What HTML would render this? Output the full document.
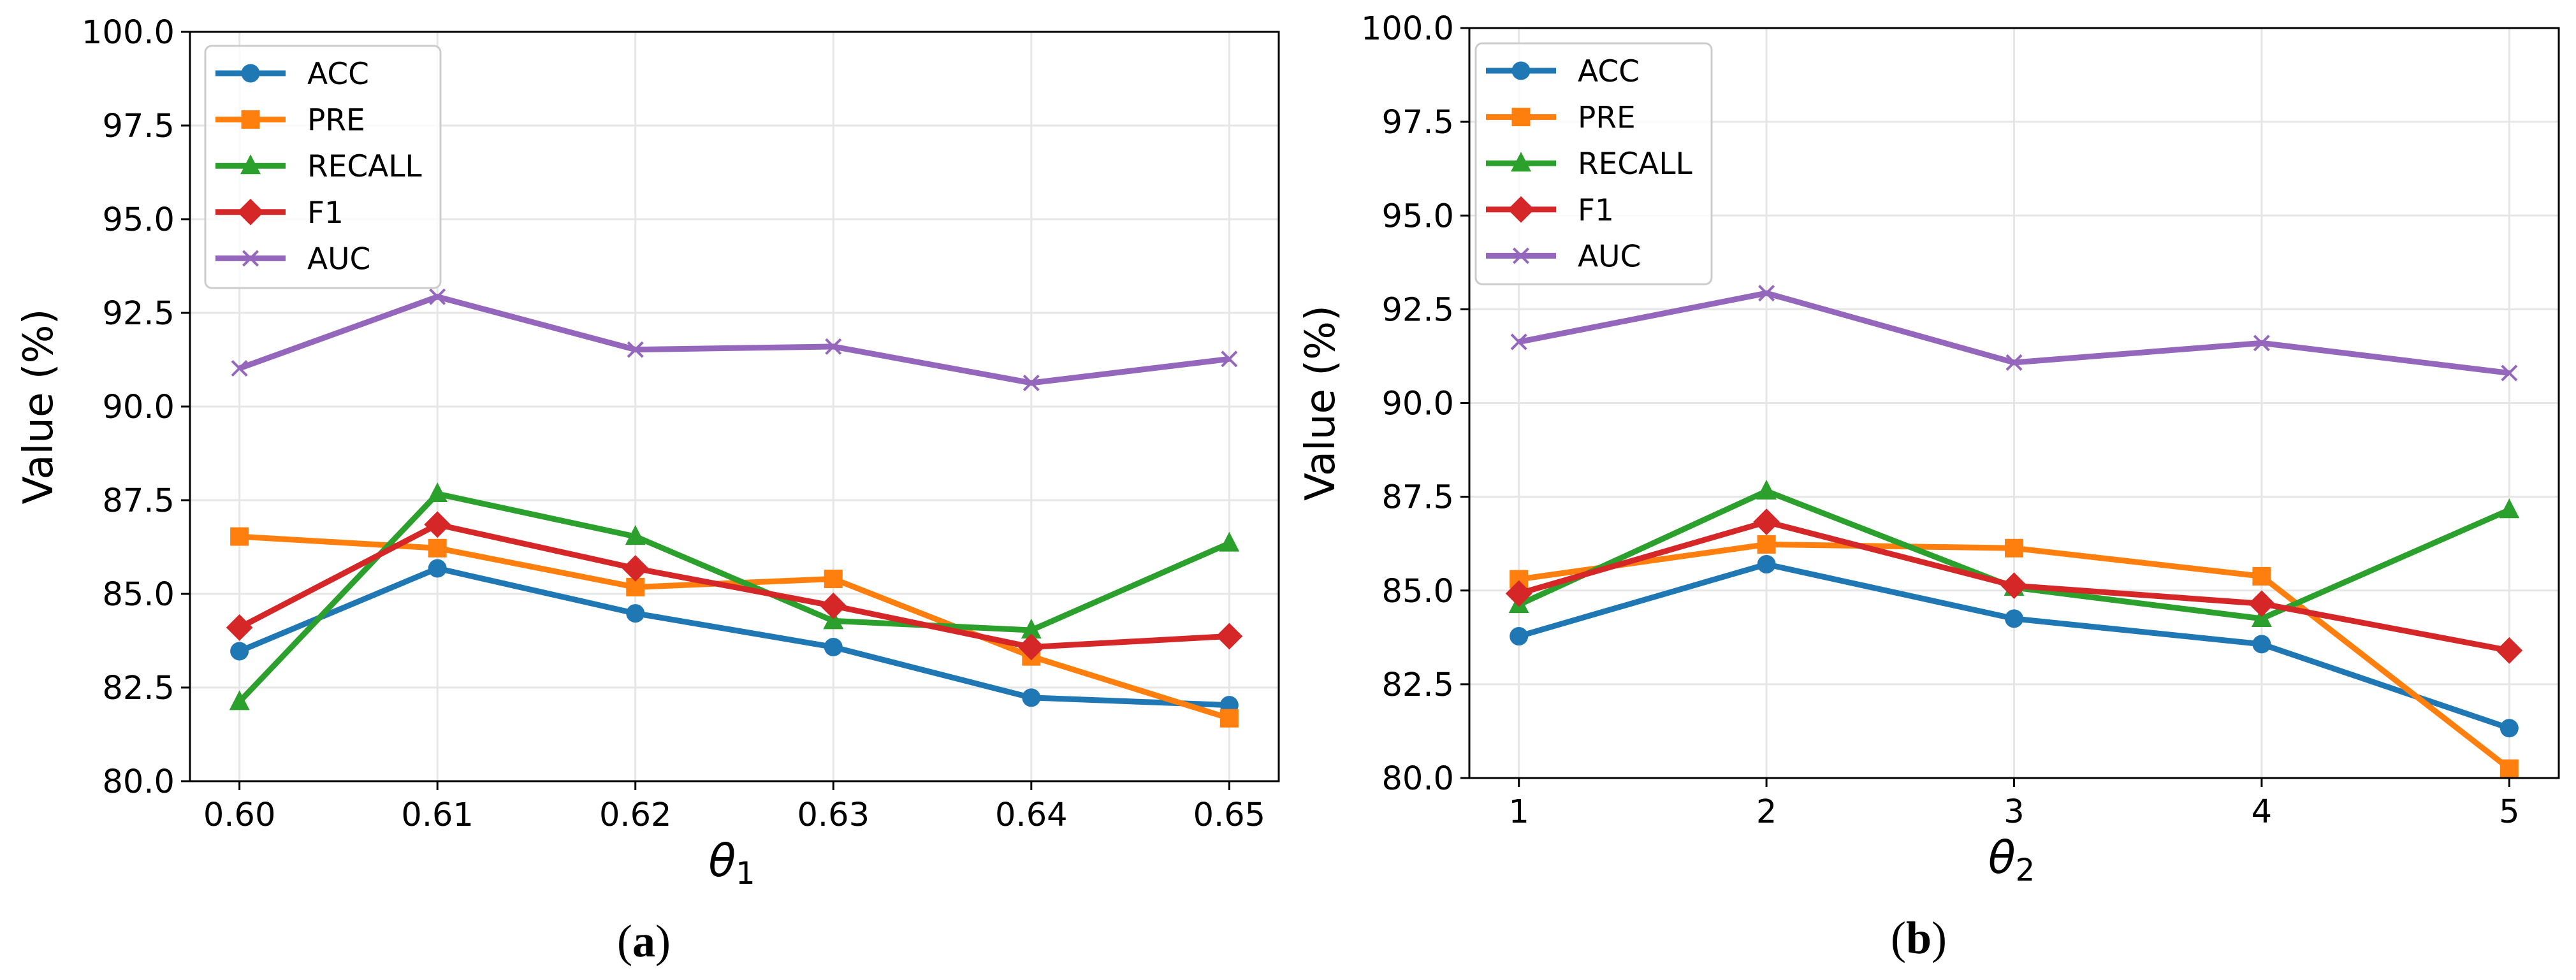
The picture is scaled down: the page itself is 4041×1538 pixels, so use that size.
<!DOCTYPE html>
<html><head><meta charset="utf-8"><style>
html,body{margin:0;padding:0;background:#fff;}
svg{display:block;font-family:"DejaVu Sans","Liberation Sans",sans-serif;}
</style></head><body>
<svg id="fig" width="4041" height="1538" viewBox="0 0 4041 1538" xmlns="http://www.w3.org/2000/svg"></svg>
<script>
const seriesNames = ["ACC","PRE","RECALL","F1","AUC"];
const seriesColors = ["#1f77b4","#ff7f0e","#2ca02c","#d62728","#9467bd"];
const seriesMarkers = ["circle","square","triangle","diamond","x"];
const yTicks = [80.0,82.5,85.0,87.5,90.0,92.5,95.0,97.5,100.0];
const xCatsA = ["0.60","0.61","0.62","0.63","0.64","0.65"];
const xCatsB = ["1","2","3","4","5"];
const accA = [83.47,85.68,84.48,83.58,82.23,82.03];
const preA = [86.53,86.22,85.18,85.40,83.33,81.68];
const recA = [82.12,87.67,86.53,84.28,84.03,86.35];
const f1A  = [84.10,86.85,85.68,84.68,83.58,83.87];
const aucA = [91.02,92.93,91.52,91.60,90.63,91.27];
const accB = [83.78,85.70,84.25,83.57,81.33];
const preB = [85.30,86.23,86.13,85.38,80.25];
const recB = [84.62,87.65,85.08,84.25,87.15];
const f1B  = [84.92,86.83,85.13,84.65,83.40];
const aucB = [91.63,92.93,91.08,91.60,90.80];

const NS="http://www.w3.org/2000/svg";
const svg=document.getElementById('fig');
function el(tag,attrs,parent){const e=document.createElementNS(NS,tag);for(const k in attrs)e.setAttribute(k,attrs[k]);(parent||svg).appendChild(e);return e;}

function marker(g,type,cx,cy,color,s){
  let m;
  if(type==="circle") m=el('circle',{cx:cx,cy:cy,r:s*0.5,fill:color},g);
  else if(type==="square") m=el('rect',{x:cx-s*0.5,y:cy-s*0.5,width:s,height:s,fill:color},g);
  else if(type==="triangle") m=el('polygon',{points:`${cx},${cy-s*0.62} ${cx-s*0.55},${cy+s*0.45} ${cx+s*0.55},${cy+s*0.45}`,fill:color},g);
  else if(type==="diamond") m=el('polygon',{points:`${cx},${cy-s*0.72} ${cx+s*0.72},${cy} ${cx},${cy+s*0.72} ${cx-s*0.72},${cy}`,fill:color},g);
  else { m=el('path',{d:`M${cx-s*0.4},${cy-s*0.4}L${cx+s*0.4},${cy+s*0.4}M${cx-s*0.4},${cy+s*0.4}L${cx+s*0.4},${cy-s*0.4}`,stroke:color,'stroke-width':4,fill:'none'},g); }
  return m;
}

function panel(p){
  const {L,R,T,B,cats,data,xsym,sub,cap,capX,ylabX,legX,legY,legW,legH,id}=p;
  const g=el('g',{});
  
  
  const n=cats.length, r=(R-L)/1.1, m=r*0.05;
  const xs=i=>L+m+r*i/(n-1);
  const ys=v=>B-(v-80)/20*(B-T);
  // grid
  for(let i=0;i<n;i++){const gl=el('line',{x1:xs(i),x2:xs(i),y1:T,y2:B,stroke:'#e6e6e6','stroke-width':3},g);
    }
  yTicks.forEach(v=>{const gl=el('line',{x1:L,x2:R,y1:ys(v),y2:ys(v),stroke:'#e6e6e6','stroke-width':3},g);
    });
  // series
  data.forEach((vals,si)=>{
    const sg=el('g',{},g);
    
    
    const pts=vals.map((v,i)=>xs(i)+','+ys(v)).join(' ');
    el('polyline',{points:pts,fill:'none',stroke:seriesColors[si],'stroke-width':9,'stroke-linejoin':'round'},sg);
    vals.forEach((v,i)=>{const mk=marker(sg,seriesMarkers[si],xs(i),ys(v),seriesColors[si],29);
      
      });
  });
  // spines
  const fr=el('rect',{x:L,y:T,width:R-L,height:B-T,fill:'none',stroke:'#000','stroke-width':3},g);
  
  // y ticks
  yTicks.forEach(v=>{
    el('line',{x1:L-14,x2:L,y1:ys(v),y2:ys(v),stroke:'#000','stroke-width':3},g);
    const t=el('text',{x:L-24,y:ys(v)+18,'font-size':51,'text-anchor':'end',fill:'#000'},g);
    t.textContent=v.toFixed(1);
    
  });
  cats.forEach((c,i)=>{
    el('line',{x1:xs(i),x2:xs(i),y1:B,y2:B+14,stroke:'#000','stroke-width':3},g);
    const t=el('text',{x:xs(i),y:B+70,'font-size':51,'text-anchor':'middle',fill:'#000'},g);
    t.textContent=c;
    
  });
  // axis labels
  const yl=el('text',{x:ylabX,y:(T+B)/2,'font-size':64,'text-anchor':'middle',transform:`rotate(-90 ${ylabX} ${(T+B)/2})`,dy:22,fill:'#000'},g);
  yl.textContent='Value (%)';
  
  const xl=el('text',{x:(L+R)/2-4,y:B+149,'font-size':70,'font-style':'italic','text-anchor':'middle',fill:'#000'},g);
  
  xl.appendChild(document.createTextNode(xsym));
  const ts=el('tspan',{'font-size':48,'font-style':'normal',dy:12},xl);ts.textContent=sub;
  const ct=el('text',{x:capX,y:B+275,'font-size':72,'font-family':'"Liberation Serif",serif','text-anchor':'middle',fill:'#000'},g);
  
  ct.appendChild(document.createTextNode('('));
  const cb=el('tspan',{'font-weight':'bold'},ct);cb.textContent=cap;
  ct.appendChild(document.createTextNode(')'));
  // legend
  const lg=el('g',{},g);
  
  el('rect',{x:legX,y:legY,width:legW,height:legH,rx:10,fill:'#fff','fill-opacity':0.8,stroke:'#cccccc','stroke-width':3},lg);
  seriesNames.forEach((nm,si)=>{
    const ry=legY+43+si*72.6;
    const le=el('g',{},lg);
    
    
    el('line',{x1:legX+16,x2:legX+126,y1:ry,y2:ry,stroke:seriesColors[si],'stroke-width':9},le);
    marker(le,seriesMarkers[si],legX+71,ry,seriesColors[si],29);
    const t=el('text',{x:legX+160,y:ry+17,'font-size':47,fill:'#000'},le);t.textContent=nm;
  });
}
panel({id:'a',L:298,R:2006,T:50,B:1226,cats:xCatsA,data:[accA,preA,recA,f1A,aucA],xsym:'θ',sub:'1',cap:'a',capX:1010,ylabX:60,legX:322,legY:72,legW:369,legH:380});
panel({id:'b',L:2305,R:4014,T:44,B:1221,cats:xCatsB,data:[accB,preB,recB,f1B,aucB],xsym:'θ',sub:'2',cap:'b',capX:3010,ylabX:2071,legX:2315,legY:68,legW:370,legH:378});
</script>
</body></html>
